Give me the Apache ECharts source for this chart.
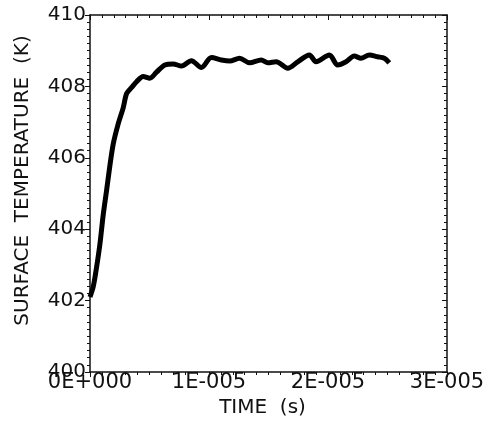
<!DOCTYPE html>
<html>
<head>
<meta charset="utf-8">
<script src="https://cdn.jsdelivr.net/npm/echarts@6/dist/echarts.min.js"></script>
<style>
  html, body { margin: 0; padding: 0; background: #fff; }
  #chart { width: 497px; height: 425px; }
</style>
</head>
<body>
<div id="chart"></div>
<script>
// time in microseconds (axis labels show seconds)
const timeUs = [
  0, 0.28, 0.56, 0.84, 1.11, 1.40, 1.68, 1.96, 2.37, 2.79, 3.08, 3.50, 3.91,
  4.47, 5.03, 5.59, 6.29, 6.98, 7.69, 8.52, 9.36, 10.20, 11.04, 11.74, 12.57,
  13.41, 14.39, 14.95, 15.65, 16.62, 17.46, 18.44, 19.00, 20.12, 20.81, 21.52,
  22.21, 22.77, 23.47, 24.17, 24.73, 25.15
]
const surfaceTemp = [
  402.10, 402.40, 402.95, 403.60, 404.40, 405.10, 405.80, 406.40, 406.95, 407.40, 407.80, 407.97, 408.13,
  408.28, 408.23, 408.40, 408.60, 408.63, 408.57, 408.72, 408.53, 408.81, 408.74, 408.71, 408.79,
  408.66, 408.74, 408.66, 408.69, 408.51, 408.69, 408.88, 408.69, 408.88, 408.60, 408.69,
  408.85, 408.79, 408.88, 408.83, 408.79, 408.66
]
const xTickLabels = ['0E+000', '1E-005', '2E-005', '3E-005']
const yTicks = [400, 402, 404, 406, 408, 410]

const font = 'DejaVu Sans'
const ink = '#111'

const chart = echarts.init(document.getElementById('chart'))

const baseX = {
  type: 'value', min: 0, max: 30, interval: 10,
  axisLine: { show: true, onZero: false, lineStyle: { color: ink, width: 1.5 } },
  axisTick: { show: true, inside: false, length: 5, lineStyle: { color: ink } },
  minorTick: { show: true, splitNumber: 10, length: 3, lineStyle: { color: ink } },
  splitLine: { show: false },
}
const baseY = {
  type: 'value', min: yTicks[0], max: yTicks[yTicks.length - 1], interval: 2,
  axisLine: { show: true, onZero: false, lineStyle: { color: ink, width: 1.5 } },
  axisTick: { show: true, inside: false, length: 5, lineStyle: { color: ink } },
  minorTick: { show: true, splitNumber: 10, length: 3, lineStyle: { color: ink } },
  splitLine: { show: false },
}

chart.setOption({
  backgroundColor: '#fff',
  animation: false,
  grid: { left: 90, right: 50, top: 15, bottom: 53 },
  xAxis: [
    Object.assign({}, baseX, {
      position: 'bottom',
      name: 'TIME  (s)', nameLocation: 'middle', nameGap: 20,
      nameTextStyle: { fontFamily: font, fontSize: 20, color: ink, padding: [0, 12, 0, 0] },
      axisLabel: {
        margin: 0, fontFamily: font, fontSize: 21, color: ink,
        formatter: v => xTickLabels[Math.round(v / 10)]
      },
    }),
    Object.assign({}, baseX, {
      position: 'top',
      axisTick: { show: true, inside: true, length: 5, lineStyle: { color: ink } },
      minorTick: { show: true, splitNumber: 10, length: 3, lineStyle: { color: ink } },
      axisLabel: { show: false },
    }),
  ],
  yAxis: [
    Object.assign({}, baseY, {
      position: 'left',
      name: 'SURFACE  TEMPERATURE  (K)', nameLocation: 'middle', nameGap: 57,
      nameTextStyle: { fontFamily: font, fontSize: 20, color: ink, padding: [0, 0, 0, 26] },
      axisLabel: { margin: 4, fontFamily: font, fontSize: 20, color: ink },
    }),
    Object.assign({}, baseY, {
      position: 'right',
      axisTick: { show: true, inside: true, length: 5, lineStyle: { color: ink } },
      minorTick: { show: true, splitNumber: 10, length: 3, lineStyle: { color: ink } },
      axisLabel: { show: false },
    }),
  ],
  series: [{
    type: 'line',
    data: timeUs.map((t, i) => [t, surfaceTemp[i]]),
    showSymbol: false,
    lineStyle: { color: '#000', width: 5 },
    smooth: 0.3,
  }],
})
</script>
</body>
</html>
